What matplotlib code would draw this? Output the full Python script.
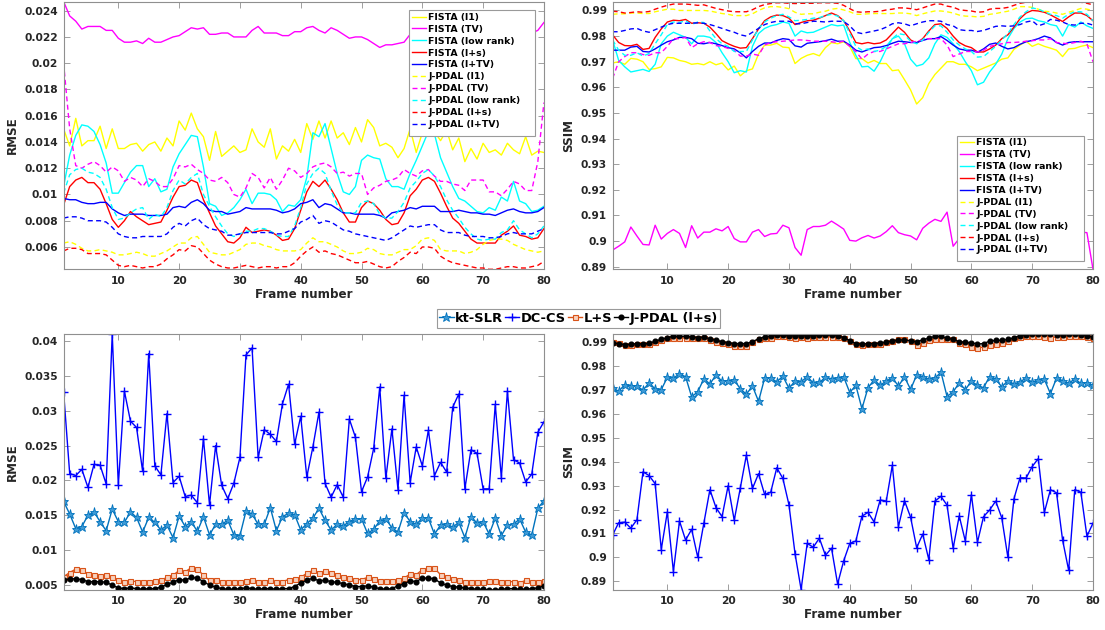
import numpy as np
import matplotlib
matplotlib.use('Agg')
import matplotlib.pyplot as plt
from matplotlib.ticker import MultipleLocator, FuncFormatter
from matplotlib.patches import Rectangle

frames = np.arange(1, 81)

# ---------------- top-left: RMSE, FISTA vs J-PDAL ----------------
rmse_fista_l1 = [
    0.0150, 0.0137, 0.0158, 0.0137, 0.0141, 0.0141, 0.0152, 0.0135, 0.0150, 0.0135,
    0.0135, 0.0138, 0.0139, 0.0133, 0.0138, 0.0140, 0.0133, 0.0143, 0.0137, 0.0156,
    0.0149, 0.0162, 0.0150, 0.0144, 0.0126, 0.0148, 0.0129, 0.0133, 0.0137, 0.0132,
    0.0134, 0.0150, 0.0140, 0.0136, 0.0150, 0.0127, 0.0137, 0.0133, 0.0142, 0.0132,
    0.0154, 0.0142, 0.0156, 0.0143, 0.0156, 0.0143, 0.0147, 0.0138, 0.0151, 0.0140,
    0.0157, 0.0151, 0.0137, 0.0139, 0.0136, 0.0128, 0.0135, 0.0150, 0.0132, 0.0147,
    0.0152, 0.0148, 0.0141, 0.0149, 0.0134, 0.0143, 0.0125, 0.0135, 0.0127, 0.0139,
    0.0132, 0.0134, 0.0130, 0.0139, 0.0134, 0.0131, 0.0144, 0.0130, 0.0133, 0.0132]
rmse_fista_tv = [
    0.0247, 0.0236, 0.0232, 0.0226, 0.0228, 0.0228, 0.0228, 0.0225, 0.0225, 0.0219,
    0.0216, 0.0216, 0.0217, 0.0215, 0.0219, 0.0216, 0.0216, 0.0218, 0.0220, 0.0221,
    0.0224, 0.0227, 0.0226, 0.0227, 0.0222, 0.0222, 0.0223, 0.0223, 0.0220, 0.0220,
    0.0220, 0.0225, 0.0228, 0.0223, 0.0223, 0.0223, 0.0221, 0.0221, 0.0224, 0.0224,
    0.0227, 0.0228, 0.0225, 0.0223, 0.0227, 0.0225, 0.0222, 0.0219, 0.0220, 0.0220,
    0.0218, 0.0215, 0.0212, 0.0214, 0.0214, 0.0215, 0.0216, 0.0222, 0.0223, 0.0221,
    0.0222, 0.0224, 0.0222, 0.0220, 0.0221, 0.0223, 0.0222, 0.0220, 0.0221, 0.0222,
    0.0224, 0.0222, 0.0221, 0.0223, 0.0222, 0.0220, 0.0222, 0.0223, 0.0225, 0.0231]
rmse_fista_lr = [
    0.0106, 0.0130, 0.0145, 0.0153, 0.0152, 0.0148, 0.0138, 0.0124, 0.0101, 0.0101,
    0.0109, 0.0117, 0.0122, 0.0122, 0.0106, 0.0112, 0.0102, 0.0104, 0.0121, 0.0131,
    0.0138, 0.0145, 0.0144, 0.0121, 0.0093, 0.0091, 0.0084, 0.0086, 0.0090, 0.0096,
    0.0104, 0.0093, 0.0101, 0.0101, 0.0100, 0.0096, 0.0087, 0.0092, 0.0091, 0.0096,
    0.0113, 0.0147, 0.0144, 0.0154, 0.0135, 0.0116, 0.0102, 0.0100, 0.0106, 0.0126,
    0.0130, 0.0128, 0.0127, 0.0112, 0.0106, 0.0106, 0.0104, 0.0116, 0.0126, 0.0137,
    0.0148, 0.0146, 0.0128, 0.0117, 0.0106, 0.0097, 0.0095, 0.0091, 0.0087, 0.0086,
    0.0090, 0.0088, 0.0098, 0.0095, 0.0110, 0.0095, 0.0093, 0.0087, 0.0088, 0.0091]
rmse_fista_ls = [
    0.0092, 0.0106, 0.0111, 0.0113, 0.0109, 0.0109, 0.0104, 0.0093, 0.0081, 0.0075,
    0.0080, 0.0087, 0.0083, 0.0080, 0.0077, 0.0078, 0.0079, 0.0088, 0.0098, 0.0106,
    0.0107, 0.0111, 0.0109, 0.0096, 0.0086, 0.0076, 0.0070, 0.0064, 0.0063, 0.0067,
    0.0075, 0.0071, 0.0072, 0.0073, 0.0072, 0.0069, 0.0065, 0.0066, 0.0074, 0.0088,
    0.0102, 0.0110, 0.0106, 0.0111, 0.0104, 0.0096, 0.0086, 0.0079, 0.0079, 0.0090,
    0.0095, 0.0093, 0.0088, 0.0081, 0.0077, 0.0078, 0.0086, 0.0099, 0.0104, 0.0111,
    0.0113, 0.0110, 0.0101, 0.0091, 0.0082, 0.0078, 0.0072, 0.0066, 0.0063, 0.0063,
    0.0063, 0.0063, 0.0069, 0.0072, 0.0076, 0.0069, 0.0068, 0.0066, 0.0067, 0.0074]
rmse_fista_ltv = [
    0.0097, 0.0096, 0.0096, 0.0094, 0.0093, 0.0093, 0.0094, 0.0094, 0.0089, 0.0086,
    0.0084, 0.0085, 0.0085, 0.0085, 0.0084, 0.0084, 0.0084, 0.0085, 0.0090, 0.0091,
    0.0090, 0.0094, 0.0096, 0.0093, 0.0088, 0.0087, 0.0087, 0.0085, 0.0086, 0.0087,
    0.0090, 0.0089, 0.0089, 0.0089, 0.0089, 0.0088, 0.0086, 0.0087, 0.0089, 0.0093,
    0.0094, 0.0096, 0.0090, 0.0093, 0.0092, 0.0089, 0.0086, 0.0086, 0.0085, 0.0085,
    0.0085, 0.0085, 0.0084, 0.0082, 0.0086, 0.0087, 0.0088, 0.0090, 0.0089, 0.0091,
    0.0091, 0.0091, 0.0087, 0.0087, 0.0087, 0.0088, 0.0087, 0.0086, 0.0086, 0.0085,
    0.0085, 0.0084, 0.0086, 0.0088, 0.0089, 0.0087, 0.0086, 0.0086, 0.0087, 0.0090]
rmse_jpdal_l1 = [
    0.0063, 0.0064, 0.0062, 0.0059, 0.0057, 0.0057, 0.0058, 0.0057, 0.0056, 0.0054,
    0.0054, 0.0055, 0.0056, 0.0055, 0.0053, 0.0053, 0.0055, 0.0057, 0.0060, 0.0063,
    0.0063, 0.0067, 0.0068, 0.0062, 0.0056, 0.0055, 0.0054, 0.0054, 0.0056, 0.0058,
    0.0062, 0.0063, 0.0063, 0.0061, 0.0060, 0.0058, 0.0057, 0.0057, 0.0057, 0.0058,
    0.0063, 0.0067, 0.0064, 0.0064, 0.0062, 0.0060, 0.0057, 0.0055, 0.0055, 0.0056,
    0.0059, 0.0058, 0.0055, 0.0054, 0.0054, 0.0056, 0.0058, 0.0058, 0.0061, 0.0066,
    0.0067, 0.0065, 0.0058, 0.0057, 0.0057, 0.0057, 0.0055, 0.0056, 0.0058, 0.0062,
    0.0065, 0.0066, 0.0066, 0.0065, 0.0062, 0.0060, 0.0058, 0.0057, 0.0056, 0.0057]
rmse_jpdal_tv = [
    0.0200, 0.0150, 0.0122, 0.0120, 0.0123, 0.0125, 0.0122, 0.0117, 0.0121, 0.0118,
    0.0110, 0.0113, 0.0111, 0.0106, 0.0112, 0.0110, 0.0106, 0.0106, 0.0112, 0.0122,
    0.0121, 0.0123, 0.0119, 0.0116, 0.0111, 0.0110, 0.0113, 0.0109, 0.0100, 0.0098,
    0.0105, 0.0116, 0.0113, 0.0105, 0.0113, 0.0104, 0.0111, 0.0120, 0.0118, 0.0113,
    0.0116, 0.0121, 0.0123, 0.0124, 0.0121, 0.0116, 0.0117, 0.0114, 0.0116, 0.0116,
    0.0100, 0.0105, 0.0107, 0.0110, 0.0111, 0.0113, 0.0119, 0.0116, 0.0114, 0.0118,
    0.0119, 0.0114, 0.0110, 0.0110, 0.0108, 0.0107, 0.0103, 0.0111, 0.0111, 0.0111,
    0.0102, 0.0102, 0.0099, 0.0104, 0.0110, 0.0108, 0.0103, 0.0103, 0.0125, 0.0170]
rmse_jpdal_lr = [
    0.0101, 0.0115, 0.0119, 0.0120, 0.0117, 0.0116, 0.0113, 0.0104, 0.0090, 0.0081,
    0.0082, 0.0086, 0.0089, 0.0090, 0.0081, 0.0085, 0.0083, 0.0090, 0.0103, 0.0111,
    0.0108, 0.0113, 0.0116, 0.0100, 0.0091, 0.0083, 0.0076, 0.0070, 0.0068, 0.0070,
    0.0072, 0.0072, 0.0074, 0.0074, 0.0072, 0.0069, 0.0068, 0.0068, 0.0076, 0.0090,
    0.0108, 0.0116, 0.0120, 0.0116, 0.0103, 0.0092, 0.0086, 0.0086, 0.0086, 0.0094,
    0.0095, 0.0093, 0.0085, 0.0082, 0.0082, 0.0087, 0.0094, 0.0105, 0.0110, 0.0116,
    0.0119, 0.0114, 0.0106, 0.0096, 0.0088, 0.0082, 0.0075, 0.0070, 0.0066, 0.0065,
    0.0066, 0.0066, 0.0071, 0.0073, 0.0080, 0.0073, 0.0070, 0.0067, 0.0070, 0.0076]
rmse_jpdal_ltv = [
    0.0082, 0.0083, 0.0083, 0.0082, 0.0080, 0.0080, 0.0080, 0.0079, 0.0075, 0.0070,
    0.0068, 0.0067, 0.0067, 0.0068, 0.0068, 0.0068, 0.0068, 0.0070, 0.0075, 0.0078,
    0.0076, 0.0080, 0.0082, 0.0077, 0.0074, 0.0073, 0.0072, 0.0069, 0.0069, 0.0070,
    0.0071, 0.0071, 0.0071, 0.0071, 0.0071, 0.0070, 0.0070, 0.0072, 0.0074, 0.0079,
    0.0081, 0.0084, 0.0078, 0.0080, 0.0079, 0.0076, 0.0073, 0.0072, 0.0070, 0.0069,
    0.0068, 0.0067, 0.0066, 0.0065, 0.0067, 0.0070, 0.0073, 0.0076, 0.0075, 0.0076,
    0.0077, 0.0077, 0.0073, 0.0071, 0.0071, 0.0071, 0.0069, 0.0068, 0.0068, 0.0068,
    0.0067, 0.0067, 0.0068, 0.0070, 0.0071, 0.0070, 0.0070, 0.0070, 0.0072, 0.0074]
# J-PDAL (l+s) RMSE, shared by top-left and bottom-left panels
rmse_jpdal_ls = [
    0.0057, 0.0059, 0.0059, 0.0058, 0.0055, 0.0055, 0.0055, 0.0054, 0.0050, 0.0046,
    0.0045, 0.0046, 0.0045, 0.0044, 0.0045, 0.0045, 0.0047, 0.0051, 0.0054, 0.0058,
    0.0057, 0.0061, 0.0060, 0.0055, 0.0050, 0.0047, 0.0045, 0.0044, 0.0044, 0.0045,
    0.0046, 0.0045, 0.0044, 0.0045, 0.0045, 0.0044, 0.0045, 0.0045, 0.0048, 0.0053,
    0.0057, 0.0060, 0.0056, 0.0057, 0.0055, 0.0054, 0.0052, 0.0050, 0.0048, 0.0048,
    0.0049, 0.0047, 0.0045, 0.0044, 0.0045, 0.0049, 0.0052, 0.0056, 0.0055, 0.0060,
    0.0060, 0.0059, 0.0053, 0.0050, 0.0048, 0.0047, 0.0046, 0.0045, 0.0044, 0.0044,
    0.0043, 0.0043, 0.0044, 0.0045, 0.0045, 0.0044, 0.0044, 0.0045, 0.0046, 0.0049]

# ---------------- top-right: SSIM, FISTA vs J-PDAL ----------------
ssim_fista_l1 = [
    0.9695, 0.9700, 0.9690, 0.9713, 0.9710, 0.9700, 0.9670, 0.9673, 0.9680, 0.9717,
    0.9715, 0.9705, 0.9700, 0.9690, 0.9693, 0.9688, 0.9700, 0.9688, 0.9695, 0.9668,
    0.9683, 0.9645, 0.9665, 0.9672, 0.9730, 0.9765, 0.9765, 0.9772, 0.9757, 0.9755,
    0.9693, 0.9713, 0.9725, 0.9732, 0.9723, 0.9755, 0.9775, 0.9770, 0.9778, 0.9760,
    0.9712, 0.9712, 0.9695, 0.9705, 0.9693, 0.9693, 0.9665, 0.9668, 0.9630, 0.9590,
    0.9535, 0.9560, 0.9615, 0.9650, 0.9675, 0.9700, 0.9700, 0.9690, 0.9690, 0.9680,
    0.9665, 0.9675, 0.9685, 0.9695, 0.9710, 0.9715, 0.9748, 0.9765, 0.9780, 0.9760,
    0.9770, 0.9760, 0.9753, 0.9745, 0.9720, 0.9750, 0.9752, 0.9760, 0.9765, 0.9755]
ssim_fista_tv = [
    0.8965, 0.8980, 0.8997, 0.9055, 0.9020, 0.8987, 0.8985, 0.9062, 0.9008, 0.9030,
    0.9045, 0.9030, 0.8975, 0.9060, 0.9012, 0.9035, 0.9035, 0.9048, 0.9040, 0.9057,
    0.9010, 0.8997, 0.8997, 0.9035, 0.9045, 0.9018, 0.9028, 0.9030, 0.9062, 0.9052,
    0.8975, 0.8945, 0.9045, 0.9057, 0.9057, 0.9062, 0.9078, 0.9063, 0.9047, 0.9003,
    0.9000, 0.9013, 0.9022, 0.9012, 0.9020, 0.9037, 0.9060, 0.9033, 0.9025, 0.9020,
    0.9005, 0.9050, 0.9070, 0.9085, 0.9077, 0.9113, 0.8980, 0.9010, 0.9030, 0.9020,
    0.9040, 0.9015, 0.9030, 0.9025, 0.9045, 0.9010, 0.9030, 0.9020, 0.9035, 0.9025,
    0.9015, 0.9040, 0.9030, 0.9020, 0.9035, 0.9025, 0.9030, 0.9035, 0.9033, 0.8890]
ssim_fista_lr = [
    0.9785, 0.9705, 0.9680, 0.9660, 0.9665, 0.9670, 0.9662, 0.9690, 0.9770, 0.9800,
    0.9815, 0.9805, 0.9795, 0.9770, 0.9800, 0.9800, 0.9795, 0.9775, 0.9735, 0.9700,
    0.9657, 0.9665, 0.9660, 0.9760, 0.9810, 0.9830, 0.9840, 0.9845, 0.9855, 0.9850,
    0.9800, 0.9820, 0.9813, 0.9815, 0.9825, 0.9835, 0.9845, 0.9840, 0.9843, 0.9775,
    0.9725, 0.9680, 0.9682, 0.9663, 0.9700, 0.9750, 0.9790, 0.9800, 0.9770, 0.9710,
    0.9683, 0.9690, 0.9715, 0.9770, 0.9805, 0.9795, 0.9770, 0.9740, 0.9700, 0.9665,
    0.9610, 0.9620, 0.9660, 0.9690, 0.9730, 0.9790, 0.9830, 0.9855, 0.9868, 0.9870,
    0.9860, 0.9855, 0.9845, 0.9840, 0.9800, 0.9845, 0.9835, 0.9855, 0.9840, 0.9830]
ssim_fista_ls = [
    0.9805, 0.9775, 0.9763, 0.9762, 0.9768, 0.9748, 0.9752, 0.9795, 0.9828, 0.9855,
    0.9862, 0.9860, 0.9865, 0.9850, 0.9852, 0.9850, 0.9835, 0.9810, 0.9782, 0.9770,
    0.9760, 0.9753, 0.9755, 0.9790, 0.9828, 0.9860, 0.9875, 0.9882, 0.9880, 0.9870,
    0.9845, 0.9853, 0.9860, 0.9862, 0.9870, 0.9880, 0.9890, 0.9880, 0.9860, 0.9820,
    0.9775, 0.9770, 0.9775, 0.9770, 0.9773, 0.9785, 0.9810, 0.9835, 0.9815, 0.9785,
    0.9773, 0.9790, 0.9820, 0.9845, 0.9848, 0.9830, 0.9800, 0.9775, 0.9762, 0.9755,
    0.9738, 0.9738, 0.9750, 0.9765, 0.9790, 0.9805, 0.9835, 0.9868, 0.9890, 0.9900,
    0.9898, 0.9893, 0.9883, 0.9870, 0.9857, 0.9875, 0.9890, 0.9890, 0.9880, 0.9860]
ssim_fista_ltv = [
    0.9745, 0.9745, 0.9745, 0.9757, 0.9760, 0.9740, 0.9738, 0.9750, 0.9765, 0.9778,
    0.9785, 0.9795, 0.9795, 0.9790, 0.9772, 0.9770, 0.9775, 0.9770, 0.9763, 0.9755,
    0.9750, 0.9735, 0.9715, 0.9740, 0.9760, 0.9773, 0.9773, 0.9783, 0.9790, 0.9787,
    0.9762, 0.9757, 0.9772, 0.9775, 0.9778, 0.9782, 0.9788, 0.9780, 0.9780, 0.9765,
    0.9745, 0.9738, 0.9747, 0.9755, 0.9757, 0.9763, 0.9772, 0.9780, 0.9778, 0.9775,
    0.9775, 0.9783, 0.9790, 0.9790, 0.9798, 0.9783, 0.9765, 0.9750, 0.9745, 0.9745,
    0.9737, 0.9750, 0.9768, 0.9773, 0.9760, 0.9750, 0.9755, 0.9768, 0.9778, 0.9783,
    0.9790, 0.9800, 0.9793, 0.9775, 0.9765, 0.9775, 0.9778, 0.9778, 0.9778, 0.9778]
ssim_jpdal_l1 = [
    0.9885, 0.9887, 0.9887, 0.9890, 0.9890, 0.9888, 0.9888, 0.9895, 0.9900, 0.9905,
    0.9905, 0.9900, 0.9900, 0.9900, 0.9900, 0.9900, 0.9898, 0.9893, 0.9888, 0.9885,
    0.9880, 0.9880, 0.9880, 0.9887, 0.9900, 0.9910, 0.9915, 0.9915, 0.9912, 0.9907,
    0.9893, 0.9885, 0.9887, 0.9887, 0.9893, 0.9897, 0.9905, 0.9908, 0.9902, 0.9895,
    0.9885, 0.9885, 0.9887, 0.9888, 0.9888, 0.9888, 0.9888, 0.9890, 0.9890, 0.9887,
    0.9880, 0.9887, 0.9893, 0.9898, 0.9898, 0.9895, 0.9890, 0.9882, 0.9878, 0.9877,
    0.9875, 0.9877, 0.9885, 0.9888, 0.9893, 0.9897, 0.9905, 0.9915, 0.9915, 0.9912,
    0.9905, 0.9897, 0.9895, 0.9890, 0.9885, 0.9893, 0.9900, 0.9908, 0.9905, 0.9900]
ssim_jpdal_tv = [
    0.9635, 0.9700, 0.9720, 0.9735, 0.9735, 0.9728, 0.9725, 0.9735, 0.9735, 0.9760,
    0.9790, 0.9790, 0.9795, 0.9755, 0.9770, 0.9778, 0.9775, 0.9763, 0.9760, 0.9752,
    0.9745, 0.9722, 0.9722, 0.9730, 0.9725, 0.9765, 0.9775, 0.9778, 0.9780, 0.9782,
    0.9785, 0.9785, 0.9783, 0.9780, 0.9780, 0.9780, 0.9778, 0.9775, 0.9780, 0.9760,
    0.9740, 0.9710, 0.9730, 0.9740, 0.9740, 0.9750, 0.9760, 0.9770, 0.9770, 0.9775,
    0.9780, 0.9785, 0.9790, 0.9790, 0.9790, 0.9765, 0.9720, 0.9730, 0.9740, 0.9740,
    0.9738, 0.9745, 0.9760, 0.9765, 0.9770, 0.9775, 0.9775, 0.9777, 0.9780, 0.9782,
    0.9785, 0.9785, 0.9790, 0.9775, 0.9772, 0.9770, 0.9775, 0.9780, 0.9770, 0.9700]
ssim_jpdal_lr = [
    0.9785, 0.9745, 0.9725, 0.9725, 0.9735, 0.9722, 0.9732, 0.9770, 0.9805, 0.9845,
    0.9855, 0.9853, 0.9860, 0.9845, 0.9855, 0.9853, 0.9820, 0.9790, 0.9770, 0.9760,
    0.9740, 0.9740, 0.9740, 0.9785, 0.9830, 0.9855, 0.9870, 0.9880, 0.9885, 0.9875,
    0.9860, 0.9862, 0.9865, 0.9870, 0.9872, 0.9880, 0.9885, 0.9878, 0.9860, 0.9810,
    0.9760, 0.9745, 0.9750, 0.9740, 0.9745, 0.9760, 0.9790, 0.9810, 0.9805, 0.9780,
    0.9770, 0.9785, 0.9815, 0.9840, 0.9840, 0.9815, 0.9785, 0.9765, 0.9750, 0.9740,
    0.9718, 0.9720, 0.9740, 0.9760, 0.9785, 0.9810, 0.9845, 0.9875, 0.9895, 0.9910,
    0.9905, 0.9895, 0.9885, 0.9880, 0.9870, 0.9885, 0.9895, 0.9895, 0.9885, 0.9860]
ssim_jpdal_ltv = [
    0.9817, 0.9817, 0.9822, 0.9828, 0.9830, 0.9820, 0.9815, 0.9825, 0.9835, 0.9845,
    0.9850, 0.9850, 0.9850, 0.9850, 0.9852, 0.9850, 0.9845, 0.9838, 0.9830, 0.9822,
    0.9815, 0.9805, 0.9800, 0.9815, 0.9830, 0.9845, 0.9853, 0.9858, 0.9858, 0.9858,
    0.9848, 0.9848, 0.9853, 0.9858, 0.9857, 0.9855, 0.9858, 0.9858, 0.9857, 0.9840,
    0.9815, 0.9810, 0.9815, 0.9820, 0.9825, 0.9835, 0.9848, 0.9852, 0.9848, 0.9840,
    0.9848, 0.9855, 0.9860, 0.9860, 0.9858, 0.9845, 0.9840, 0.9825, 0.9822, 0.9822,
    0.9818, 0.9822, 0.9830, 0.9838, 0.9840, 0.9838, 0.9840, 0.9845, 0.9855, 0.9860,
    0.9840, 0.9848, 0.9865, 0.9862, 0.9855, 0.9845, 0.9843, 0.9850, 0.9850, 0.9843]
# J-PDAL (l+s) SSIM, shared by top-right and bottom-right panels
ssim_jpdal_ls = [
    0.9897, 0.9895, 0.9890, 0.9892, 0.9895, 0.9893, 0.9896, 0.9905, 0.9913, 0.9920,
    0.9925, 0.9925, 0.9925, 0.9923, 0.9920, 0.9922, 0.9915, 0.9908, 0.9903, 0.9898,
    0.9895, 0.9895, 0.9895, 0.9903, 0.9915, 0.9923, 0.9927, 0.9930, 0.9930, 0.9928,
    0.9927, 0.9928, 0.9928, 0.9928, 0.9930, 0.9930, 0.9930, 0.9928, 0.9920, 0.9907,
    0.9895, 0.9893, 0.9895, 0.9895, 0.9897, 0.9902, 0.9905, 0.9910, 0.9910, 0.9907,
    0.9903, 0.9910, 0.9918, 0.9925, 0.9925, 0.9917, 0.9913, 0.9903, 0.9900, 0.9898,
    0.9893, 0.9895, 0.9905, 0.9908, 0.9908, 0.9912, 0.9920, 0.9928, 0.9932, 0.9933,
    0.9935, 0.9935, 0.9933, 0.9932, 0.9932, 0.9933, 0.9935, 0.9932, 0.9928, 0.9922]

# ---------------- bottom panels: kt-SLR, DC-CS, L+S ----------------
rmse_ktslr = [
    0.0170, 0.0152, 0.0131, 0.0134, 0.0150, 0.0155, 0.0141, 0.0128, 0.0159, 0.0141,
    0.0140, 0.0155, 0.0147, 0.0126, 0.0147, 0.0140, 0.0129, 0.0136, 0.0118, 0.0149,
    0.0134, 0.0141, 0.0127, 0.0148, 0.0122, 0.0137, 0.0137, 0.0143, 0.0122, 0.0121,
    0.0156, 0.0152, 0.0137, 0.0137, 0.0161, 0.0128, 0.0148, 0.0153, 0.0151, 0.0129,
    0.0138, 0.0146, 0.0160, 0.0143, 0.0129, 0.0137, 0.0135, 0.0141, 0.0145, 0.0145,
    0.0124, 0.0130, 0.0142, 0.0145, 0.0132, 0.0126, 0.0154, 0.0141, 0.0137, 0.0146,
    0.0146, 0.0123, 0.0136, 0.0138, 0.0133, 0.0140, 0.0118, 0.0148, 0.0139, 0.0141,
    0.0123, 0.0146, 0.0121, 0.0136, 0.0137, 0.0145, 0.0126, 0.0122, 0.0160, 0.0171]
rmse_dccs = [
    0.0327, 0.0210, 0.0207, 0.0216, 0.0190, 0.0223, 0.0222, 0.0195, 0.0410, 0.0193,
    0.0328, 0.0285, 0.0276, 0.0213, 0.0382, 0.0221, 0.0208, 0.0296, 0.0197, 0.0206,
    0.0177, 0.0179, 0.0168, 0.0260, 0.0165, 0.0250, 0.0193, 0.0174, 0.0196, 0.0233,
    0.0380, 0.0390, 0.0233, 0.0273, 0.0266, 0.0256, 0.0310, 0.0338, 0.0252, 0.0292,
    0.0205, 0.0248, 0.0298, 0.0196, 0.0176, 0.0194, 0.0176, 0.0288, 0.0262, 0.0184,
    0.0205, 0.0246, 0.0334, 0.0203, 0.0274, 0.0187, 0.0322, 0.0197, 0.0248, 0.0221,
    0.0272, 0.0207, 0.0226, 0.0212, 0.0305, 0.0324, 0.0188, 0.0244, 0.0239, 0.0188,
    0.0188, 0.0309, 0.0204, 0.0328, 0.0230, 0.0225, 0.0198, 0.0209, 0.0269, 0.0284]
rmse_lps = [
    0.0062, 0.0068, 0.0073, 0.0072, 0.0066, 0.0065, 0.0063, 0.0064, 0.0061, 0.0058,
    0.0055, 0.0056, 0.0055, 0.0054, 0.0055, 0.0056, 0.0057, 0.0061, 0.0064, 0.0071,
    0.0069, 0.0075, 0.0073, 0.0064, 0.0057, 0.0058, 0.0055, 0.0054, 0.0054, 0.0054,
    0.0056, 0.0057, 0.0055, 0.0055, 0.0057, 0.0054, 0.0055, 0.0058, 0.0059, 0.0061,
    0.0067, 0.0071, 0.0068, 0.0070, 0.0068, 0.0065, 0.0061, 0.0060, 0.0058, 0.0058,
    0.0061, 0.0059, 0.0056, 0.0056, 0.0056, 0.0058, 0.0060, 0.0066, 0.0065, 0.0072,
    0.0074, 0.0074, 0.0065, 0.0062, 0.0059, 0.0058, 0.0054, 0.0055, 0.0054, 0.0055,
    0.0056, 0.0056, 0.0055, 0.0055, 0.0055, 0.0053, 0.0057, 0.0054, 0.0054, 0.0056]
ssim_ktslr = [
    0.9710, 0.9695, 0.9723, 0.9717, 0.9716, 0.9700, 0.9730, 0.9705, 0.9702, 0.9753,
    0.9750, 0.9768, 0.9756, 0.9672, 0.9693, 0.9747, 0.9726, 0.9763, 0.9737, 0.9738,
    0.9743, 0.9705, 0.9683, 0.9717, 0.9653, 0.9750, 0.9750, 0.9735, 0.9758, 0.9708,
    0.9737, 0.9735, 0.9756, 0.9730, 0.9732, 0.9753, 0.9748, 0.9750, 0.9755, 0.9690,
    0.9720, 0.9622, 0.9710, 0.9742, 0.9720, 0.9738, 0.9752, 0.9717, 0.9755, 0.9703,
    0.9763, 0.9757, 0.9745, 0.9750, 0.9775, 0.9673, 0.9693, 0.9730, 0.9702, 0.9737,
    0.9720, 0.9710, 0.9757, 0.9747, 0.9713, 0.9740, 0.9725, 0.9735, 0.9750, 0.9733,
    0.9743, 0.9745, 0.9685, 0.9750, 0.9740, 0.9728, 0.9747, 0.9728, 0.9730, 0.9720]
ssim_dccs = [
    0.9093, 0.9145, 0.9147, 0.9122, 0.9157, 0.9358, 0.9342, 0.9308, 0.9032, 0.9190,
    0.8940, 0.9152, 0.9072, 0.9117, 0.9000, 0.9142, 0.9283, 0.9208, 0.9170, 0.9300,
    0.9155, 0.9290, 0.9428, 0.9288, 0.9350, 0.9263, 0.9272, 0.9375, 0.9330, 0.9220,
    0.9015, 0.8865, 0.9058, 0.9042, 0.9080, 0.9008, 0.9038, 0.8888, 0.8985, 0.9058,
    0.9068, 0.9172, 0.9188, 0.9148, 0.9240, 0.9235, 0.9385, 0.9128, 0.9237, 0.9168,
    0.9040, 0.9097, 0.8990, 0.9235, 0.9255, 0.9218, 0.9038, 0.9173, 0.9068, 0.9262,
    0.9063, 0.9170, 0.9198, 0.9235, 0.9165, 0.9000, 0.9245, 0.9333, 0.9332, 0.9380,
    0.9413, 0.9188, 0.9283, 0.9270, 0.9072, 0.8945, 0.9283, 0.9273, 0.9088, 0.9143]
ssim_lps = [
    0.9902, 0.9898, 0.9888, 0.9890, 0.9893, 0.9893, 0.9895, 0.9903, 0.9910, 0.9918,
    0.9920, 0.9920, 0.9917, 0.9918, 0.9918, 0.9918, 0.9910, 0.9903, 0.9897, 0.9893,
    0.9885, 0.9885, 0.9885, 0.9900, 0.9912, 0.9918, 0.9920, 0.9925, 0.9925, 0.9922,
    0.9920, 0.9922, 0.9920, 0.9922, 0.9922, 0.9923, 0.9923, 0.9922, 0.9920, 0.9907,
    0.9895, 0.9887, 0.9893, 0.9893, 0.9895, 0.9903, 0.9905, 0.9915, 0.9912, 0.9905,
    0.9888, 0.9898, 0.9908, 0.9915, 0.9915, 0.9913, 0.9912, 0.9898, 0.9893, 0.9882,
    0.9877, 0.9880, 0.9890, 0.9895, 0.9897, 0.9905, 0.9917, 0.9922, 0.9925, 0.9925,
    0.9925, 0.9922, 0.9920, 0.9922, 0.9922, 0.9925, 0.9927, 0.9925, 0.9922, 0.9918]

top_labels = ['FISTA (l1)', 'FISTA (TV)', 'FISTA (low rank)', 'FISTA (l+s)', 'FISTA (l+TV)',
              'J-PDAL (l1)', 'J-PDAL (TV)', 'J-PDAL (low rank)', 'J-PDAL (l+s)', 'J-PDAL (l+TV)']
bottom_labels = ['kt-SLR', 'DC-CS', 'L+S', 'J-PDAL (l+s)']

# ---------------- drawing ----------------
plt.rcParams['font.family'] = ['DejaVu Sans']
plt.rcParams['font.weight'] = 'bold'
plt.rcParams['axes.labelweight'] = 'bold'

W, H = 1105, 630
fig = plt.figure(figsize=(W / 100, H / 100), dpi=100)
fig.patch.set_facecolor('white')


def ax_at(left, right, top, bottom):
    return fig.add_axes([left / W, 1 - bottom / H, (right - left) / W, (bottom - top) / H])


ax_tl = ax_at(63.6, 543.9, 1.5, 269.3)
ax_tr = ax_at(612.6, 1093.0, 1.5, 269.3)
ax_bl = ax_at(63.6, 543.9, 334.0, 590.0)
ax_br = ax_at(612.6, 1093.0, 334.0, 589.5)

TXT = '#262626'
SPINE = '#8f8f8f'
FRAME = '#9a9a9a'


def fmt(v, pos):
    return '%g' % round(v, 6)


def style(ax, ylabel, step, series):
    lo = min(min(s) for s in series)
    hi = max(max(s) for s in series)
    ax.set_xlim(1, 80)
    ax.set_ylim(lo, hi)
    ax.xaxis.set_major_locator(MultipleLocator(10))
    ax.yaxis.set_major_locator(MultipleLocator(step))
    ax.yaxis.set_major_formatter(FuncFormatter(fmt))
    ax.tick_params(direction='in', top=True, right=True, length=4, width=0.6,
                   color=SPINE, labelsize=7.7, labelcolor=TXT)
    ax.tick_params(axis='x', pad=4.5)
    ax.tick_params(axis='y', pad=4)
    for s in ax.spines.values():
        s.set_color(SPINE)
        s.set_linewidth(0.8)
    ax.set_xlabel('Frame number', fontsize=8.6, fontweight='bold', color=TXT, labelpad=1.5)
    ax.set_ylabel(ylabel, fontsize=8.6, fontweight='bold', color=TXT, labelpad=4)


colors = ['#ffff00', '#ff00ff', '#00ffff', '#ff0000', '#0000ff']
dash = (0, (3.6, 2.4))
LW = 1.0

tl_series = [rmse_fista_l1, rmse_fista_tv, rmse_fista_lr, rmse_fista_ls, rmse_fista_ltv,
             rmse_jpdal_l1, rmse_jpdal_tv, rmse_jpdal_lr, rmse_jpdal_ls, rmse_jpdal_ltv]
tr_series = [ssim_fista_l1, ssim_fista_tv, ssim_fista_lr, ssim_fista_ls, ssim_fista_ltv,
             ssim_jpdal_l1, ssim_jpdal_tv, ssim_jpdal_lr, ssim_jpdal_ls, ssim_jpdal_ltv]

for ax, series in ((ax_tl, tl_series), (ax_tr, tr_series)):
    for i, (vals, lab) in enumerate(zip(series, top_labels)):
        ls = '-' if i < 5 else dash
        ax.plot(frames, vals, color=colors[i % 5], lw=LW, linestyle=ls, label=lab)

style(ax_tl, 'RMSE', 0.002, tl_series)
style(ax_tr, 'SSIM', 0.01, tr_series)


def boxed_legend(ax, x0, x1, y0, y1):
    # white box with a grey edge, drawn in axes fractions, legend entries inside
    ax.add_patch(Rectangle((x0, y0), x1 - x0, y1 - y0, transform=ax.transAxes,
                           facecolor='white', edgecolor=FRAME, lw=0.8, zorder=4.5,
                           clip_on=False))
    lg = ax.legend(loc='upper left', bbox_to_anchor=(x0, y1), borderaxespad=0,
                   frameon=False, prop={'weight': 'bold', 'size': 6.75},
                   handlelength=1.55, handletextpad=0.18, labelspacing=0.31,
                   borderpad=0.3)
    lg.set_zorder(5)
    return lg


boxed_legend(ax_tl, 0.7192, 0.9815, 0.4978, 0.9683)
boxed_legend(ax_tr, 0.7169, 0.9813, 0.0310, 0.4996)

KT = '#0072BD'
OR = '#D95319'


def bottom(ax, kt, dc, lps, jp):
    h1, = ax.plot(frames, kt, color=KT, lw=1.0, marker='*', ms=6.5, mfc='#3d9ad6', mec=KT, mew=0.6)
    h2, = ax.plot(frames, dc, color='#0000ff', lw=1.0, marker='+', ms=5.5, mew=1.0)
    h3, = ax.plot(frames, lps, color=OR, lw=1.0, marker='s', ms=3.6, mfc='#f7d0bd', mec=OR, mew=0.8)
    h4, = ax.plot(frames, jp, color='black', lw=1.0, marker='o', ms=3.4, mfc='black', mec='black')
    return [h1, h2, h3, h4]


hs = bottom(ax_bl, rmse_ktslr, rmse_dccs, rmse_lps, rmse_jpdal_ls)
bottom(ax_br, ssim_ktslr, ssim_dccs, ssim_lps, ssim_jpdal_ls)
style(ax_bl, 'RMSE', 0.005, [rmse_ktslr, rmse_dccs, rmse_lps, rmse_jpdal_ls])
style(ax_br, 'SSIM', 0.01, [ssim_ktslr, ssim_dccs, ssim_lps, ssim_jpdal_ls])

lg3 = fig.legend(hs, bottom_labels, loc='center', bbox_to_anchor=(578.5 / W, 1 - 318.5 / H),
                 ncol=4, prop={'weight': 'bold', 'size': 9.4}, frameon=True, fancybox=False,
                 edgecolor=FRAME, framealpha=1, handlelength=1.1, handletextpad=0.1,
                 columnspacing=0.15, borderpad=0.2, borderaxespad=0)
lg3.get_frame().set_linewidth(0.8)

fig.savefig('out.png', dpi=100, facecolor='white')
